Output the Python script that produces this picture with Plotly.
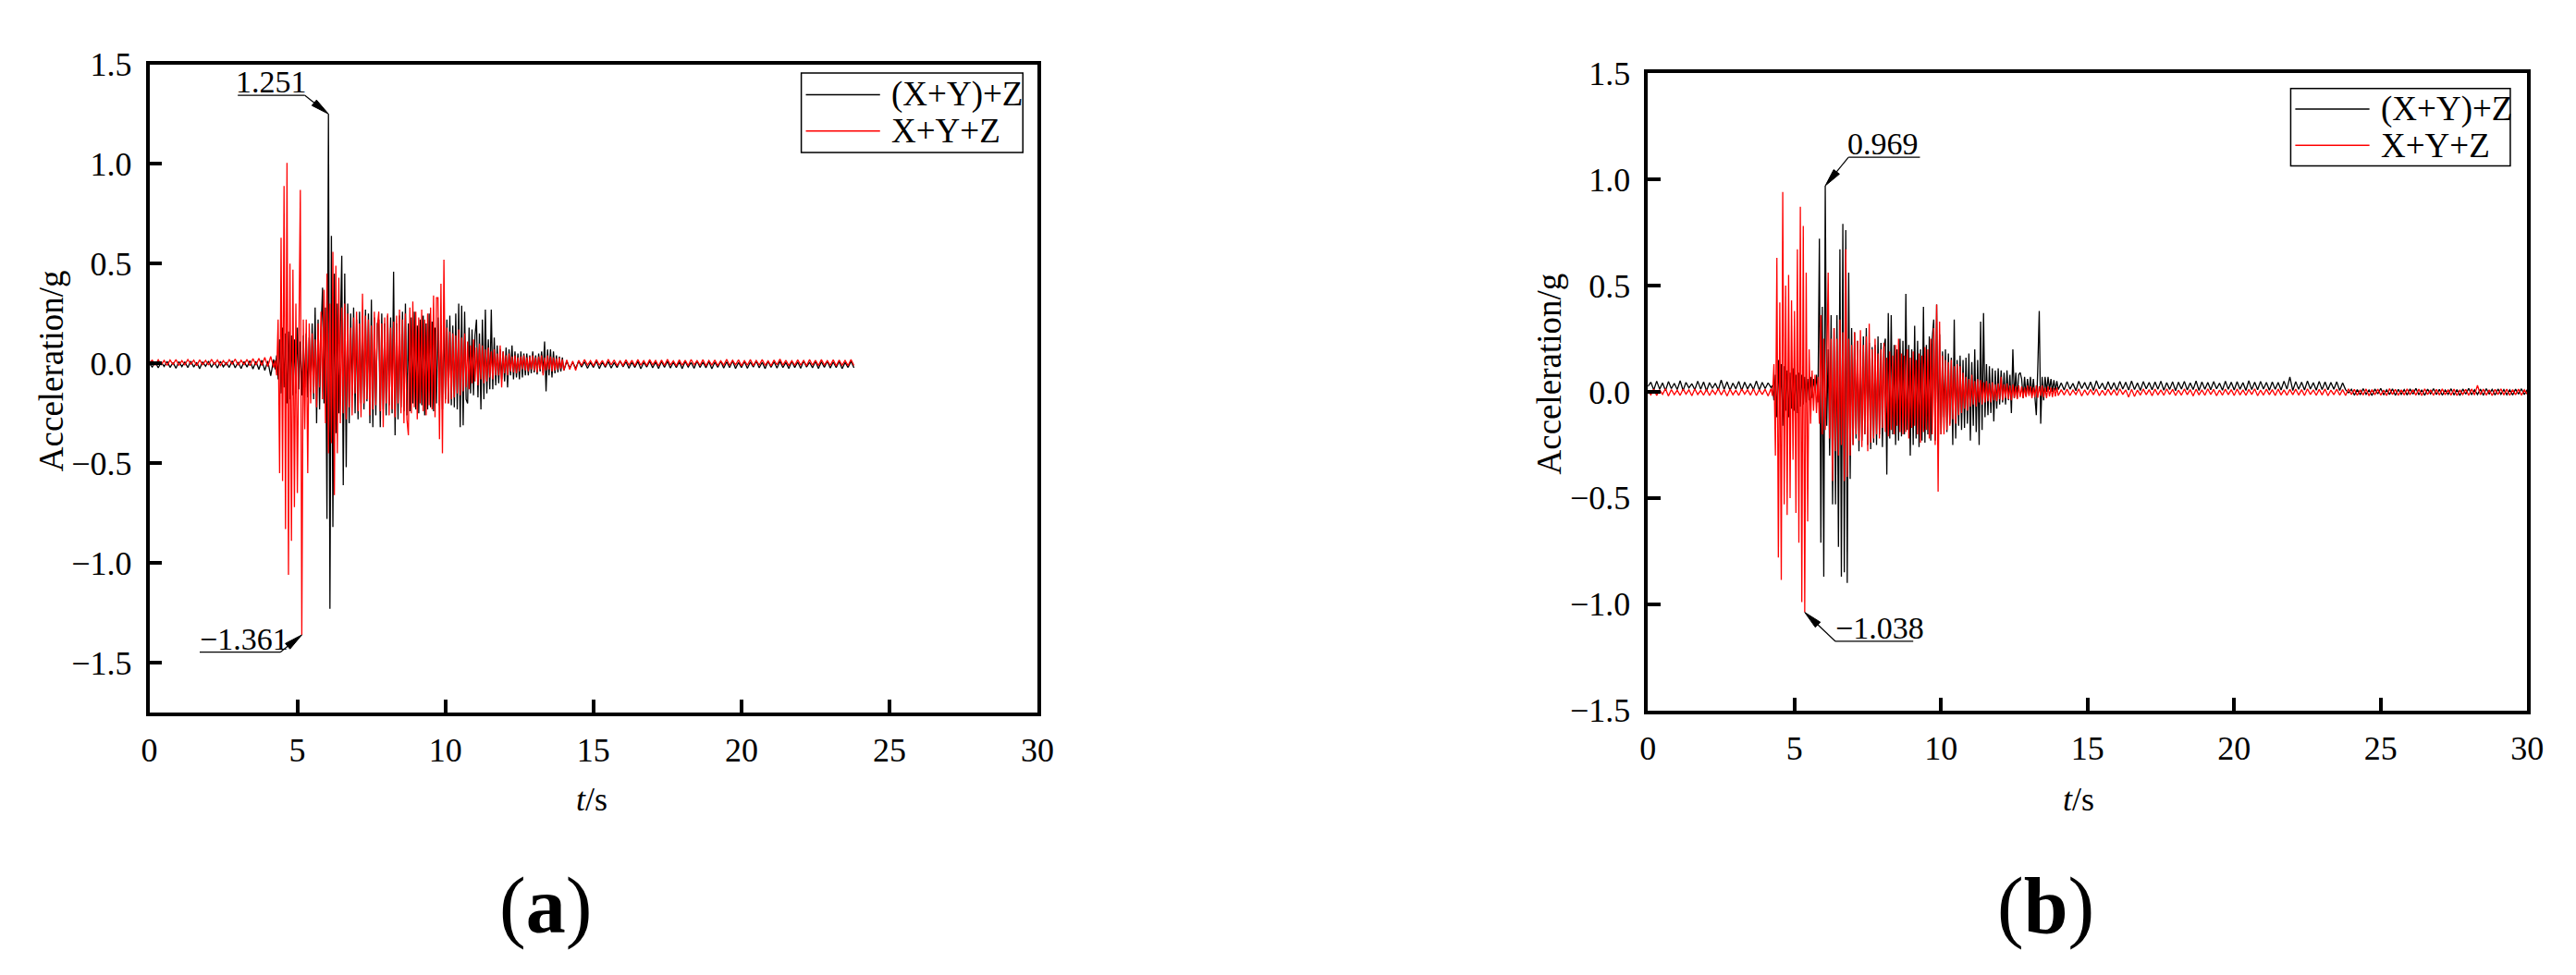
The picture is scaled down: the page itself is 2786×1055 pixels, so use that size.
import numpy as np
import plotly.graph_objects as go

# ---------------------------------------------------------------------------
# DATA  (acceleration values, in milli-g)
# sampling: 0.0-4.2 s every 0.1 s | 4.25-14.0 s every 0.05 s | 14.1 s -> end every 0.1 s
# ---------------------------------------------------------------------------
PRE_STEP = 0.1
STRONG_START, STRONG_STEP = 4.25, 0.05
POST_START, POST_STEP = 14.1, 0.1

series_names = ["(X+Y)+Z", "X+Y+Z"]

# ----- panel (a) -----
a_black_pre = [0, -18, 8, -22, 6, -15, 10, -20, 4, -24, 9, -16, 7, -21, 12, -18, 5, -26, 8, -14,
               11, -19, 6, -23, 10, -17, 4, -20, 13, -22, 7, -25, 9, -18, 14, -28, 10, -30, 16, -35,
               12, -62, 20]
a_black_strong = [-30, 40, -80, 120, -150, 180, -120, 150, -200, 160,
                  -180, 140, -160, 120, -150, 180, -130, 110, -160, 140, -120, 150, -170, 130, -140, 200, -180, 280, -300, 220,
                  -230, 160, 380, -200, 280, -780, 1251, -1230, 640, -820, 450, -350, 300, -250, 200, 540, -610, 450, -520, 300,
                  -300, 250, -160, 280, -250, 220, -280, 260, -200, 240, -230, 270, -190, 250, -300, 320, -320, 230, -260, 200,
                  220, -320, 250, -230, 200, -260, 240, -210, 230, -250, 460, -360, 200, -280, 240, -220, 260, -240, 300, -260,
                  200, -240, 230, -200, 260, -230, 190, -250, 220, -210, 240, -260, 200, -230, 250, -220, 210, -240, 180, -200,
                  230, -210, 190, -230, 200, -180, 220, -200, 240, -210, 190, -220, 250, -230, 300, -320, 290, -310, 260, -180,
                  -200, 180, -150, 170, -160, 140, 220, -170, 150, -230, 220, -180, 270, -150, 120, -130, 270, -130, 130, -110,
                  90, -100, 70, -80, 60, -90, 80, -120, 70, -60, 90, -80, 60, -70, 50, -80, 60, -70, 50, -60,
                  50, -60, 40, -50, 60, -45, 40, -55, 50, -40, 60, -50, 110, -140, 70, -60, 70, -70, 60, -50,
                  40, -45, 35, -40, 30, -35]
a_black_post = [10, -22, 6, -25, 12, -18, 8, -24, 5, -20, 11, -26, 7, -19, 9, -23, 4, -21, 13, -17,
                8, -24, 6, -20, 10, -27, 5, -18, 12, -22, 7, -25, 9, -19, 11, -23, 6, -21, 8, -26,
                10, -18, 5, -24, 12, -20, 7, -22, 9, -27, 6, -19, 11, -23, 8, -21, 13, -25, 5, -20,
                9, -24, 7, -18, 12, -22, 6, -26, 10, -19, 8, -23, 11, -21, 5, -25, 9, -20, 7, -24,
                12, -18, 6, -22, 10, -25, 8, -19, 11, -23, 7, -21, 9, -26, 5, -20, 10, -22]

a_red_pre = [5, 16, -8, 18, -6, 15, -10, 17, -5, 19, -9, 14, -7, 20, -4, 16, -11, 18, -6, 15,
             -8, 21, -5, 17, -10, 14, -7, 19, -4, 22, -9, 16, -6, 20, -12, 24, -8, 26, -10, 30,
             -15, 35, -20]
a_red_strong = [15, -60, 220, -550, 630, -590, 890, -830, 1005, -1060,
                500, -890, 470, -720, 300, -650, 150, 870, -1361, 220, -330, 220, -550, 200, -200, 150, -150, 120, -220, 200,
                -120, 260, -180, 370, -300, 450, -450, 300, -400, 560, -660, 490, -450, 430, -300, 280, -250, 300, -280, 250,
                -220, 180, -260, 230, -150, 260, -240, 200, -270, 350, -200, 240, -180, 220, -260, 190, -230, 260, -210, 180,
                260, -240, 200, -320, 230, -200, 250, -260, 180, -230, 210, -270, 240, -200, 270, -250, 220, -300, 250, -280,
                -360, 280, -250, 310, -220, 260, -280, 230, -200, 270, -240, 220, -260, 250, -210, 280, -230, 340, -270, 330,
                330, -380, 400, -450, 520, -200, 180, -200, 160, -180, 150, -170, 140, -150, 170, -160, 130, -140, 150, -120,
                110, -130, 90, -100, 120, -90, 80, -110, 100, -80, 90, -100, 70, -90, 80, -70, 60, -80, 70, -60,
                50, -60, 90, -120, 60, -50, 40, -60, 50, -40, 35, -45, 40, -50, 30, -40, 35, -30, 40, -35,
                30, -40, 35, -30, 40, -35, 30, -45, 35, -30, 40, -60, 30, -35, 40, -30, 35, -40, 30, -35,
                25, -30, 30, -25, 20, -35]
a_red_post = [18, -30, 12, -35, 16, -10, 20, -8, 14, -12, 19, -9, 15, -13, 21, -7, 17, -11, 13, -10,
              18, -8, 16, -12, 20, -9, 14, -11, 19, -7, 15, -13, 17, -10, 21, -8, 13, -12, 18, -9,
              16, -11, 20, -7, 14, -10, 19, -12, 15, -8, 17, -11, 13, -9, 21, -10, 16, -7, 18, -12,
              14, -9, 20, -11, 15, -8, 19, -10, 13, -12, 17, -7, 22, -9, 16, -11, 14, -10, 18, -8,
              15, -12, 20, -9, 16, -11, 19, -8, 14, -10, 18, -12, 17, -9, 15, -11, 20, -10]

# ----- panel (b) -----
b_black_pre = [25, 45, 8, 50, 12, 42, 5, 48, 15, 40, 10, 52, 6, 44, 18, 38, 9, 50, 12, 46,
               4, 43, 16, 40, 8, 55, 11, 47, 7, 41, 14, 49, 6, 45, 13, 39, 10, 51, 8, 44,
               15, 42, 20]
b_black_strong = [30, -40, 80, -120, 150, -100, 130, -160, 120, -90,
                  100, -120, 90, -80, 110, -90, 80, -100, 90, -70, 80, -60, 70, -50, 60, -40, 70, -30, 60, 10,
                  80, -50, 720, -710, 400, -870, 969, -160, 200, -300, 360, -530, 300, -530, 360, -730, 670, -870, 790, -850,
                  760, -900, 560, -410, 300, -250, 280, -220, 240, -280, 200, -230, 260, -200, 300, -250, 230, -270, 210, -240,
                  220, -250, 260, -200, 230, -260, 210, 250, -390, 370, -220, 360, -200, 220, -250, 200, -230, 250, -210, 240,
                  -200, 460, -180, 220, -300, 200, -250, 310, -220, 240, -260, 200, -230, 400, -240, 220, -200, 260, -230, 250,
                  340, -230, 410, -250, 270, -200, 190, -120, 200, -190, 180, -150, 160, -250, 340, -220, 150, -160, 170, -180,
                  150, -170, 160, -150, 180, -230, 140, -160, 200, -190, 150, -250, 330, -180, 370, -120, 130, -110, 120, -100,
                  110, -140, 100, -80, 110, -60, 100, -50, 90, -60, 100, -40, 80, -100, 200, -30, 90, -30, 80, 90,
                  60, -30, 70, -20, 60, -10, 70, -20, 60, -20, -110, 110, 380, -150, 70, -40, 70, 0, 70, 10,
                  60, 0, 55, 5, 50, 10]
b_black_post = [42, 8, 48, 12, 40, 5, 50, 15, 44, 10, 46, 6, 52, 14, 41, 9, 47, 11, 43, 7,
                49, 13, 45, 8, 51, 10, 42, 6, 48, 14, 44, 9, 46, 12, 50, 7, 43, 11, 47, 5,
                45, 13, 49, 8, 42, 10, 51, 6, 46, 12, 44, 9, 48, 14, 41, 7, 50, 11, 45, 8,
                47, 12, 43, 6, 52, 10, 45, 9, 49, 13, 44, 7, 46, 11, 44, 8, 50, 12, 70, 6,
                48, 11, 45, 8, 51, 13, 43, 7, 49, 10, 46, 9, 44, 12, 47, 6, 42, 10,
                -5, 12, -16, 10, -14, 15, -12, 8, -18, 13, -10, 16, -15, 9, -13, 14, -17, 11, -12, 10,
                -15, 13, -11, 16, -14, 9, -17, 12, -10, 15, -13, 11, -16, 8, -12, 14, -15, 10, -18, 13,
                -11, 16, -14, 9, -13, 12, -17, 15, -10, 11, -16, 13, -12, 10, -14, 9, -15, 12, -11, 14,
                -13, 10]

b_red_pre = [5, -15, 12, -18, 8, -12, 15, -20, 10, -14, 7, -17, 13, -11, 9, -19, 14, -13, 6, -16,
             11, -18, 8, -12, 15, -15, 10, -20, 12, -14, 7, -17, 13, -11, 9, -16, 14, -18, 10, -13,
             12, -20, 15]
b_red_strong = [-20, 130, -300, 630, -780, 420, -885, 940, -530, 500,
                -580, 550, -500, 430, -320, 380, -570, 670, -710, 870, -990, 780, -1038, 560, -610, 200, -150, 100, -90, 80,
                -100, 70, -150, 360, -200, 250, -180, 120, 560, -220, 250, -420, 300, -280, 250, -300, 340, -250, 280, -420,
                670, -400, 250, -300, 220, -250, 280, -200, 240, -230, 290, -260, 220, -200, 260, -280, 320, -240, 200, -220,
                250, -200, 180, -220, 200, -170, 230, -190, 160, -210, 190, -180, 170, -200, 220, -160, 250, -190, 180, -200,
                170, -190, 200, -220, 160, -170, 190, -160, 150, -200, 180, -240, 170, -190, 210, -180, 200, -220, 250, -200,
                300, -250, 410, -470, 330, -200, 170, -200, 150, -180, 140, -160, 150, -130, 120, -150, 130, -110, 120, -100,
                90, -80, 70, -90, 60, -70, 80, -60, 50, -70, 60, -50, 55, -60, 45, -50, 50, -45, 40, -50,
                45, -40, 35, -45, 40, -35, 70, -40, 35, -30, 40, -35, 30, -40, 35, -30, 25, -35, 30, -25,
                25, -30, 20, -25, 30, -20, 25, -30, 20, -25, 30, -28, 25, -20, 30, -25, 20, -30, 25, -22,
                20, -25, 18, -22, 20, -18]
b_red_post = [10, -15, 12, -18, 8, -13, 14, -20, 9, -16, 11, -14, 13, -19, 7, -17, 12, -15, 10, -18,
              14, -13, 9, -25, 11, -22, 8, -16, 13, -14, 10, -19, 12, -15, 9, -17, 14, -13, 11, -18,
              8, -16, 13, -14, 10, -20, 12, -15, 9, -17, 14, -13, 11, -19, 8, -16, 12, -14, 10, -18,
              13, -15, 9, -17, 11, -13, 14, -19, 8, -16, 12, -14, 10, -18, 13, -15, 9, -17, 11, -14,
              12, -16, 10, -18, 14, -13, 9, -17, 11, -15, 13, -19, 8, -14, 12, -16, 10, -18, 14, -13,
              11, -17, 9, -15, 13, -19, 10, -14, 12, -16, 8, -18, 15, -13, 11, -17, 9, -15, 13, -14,
              10, -16, 12, -18, 14, -13, 9, -17, 11, -15, 13, -14, 10, -16, 12, -18, 9, -13, 11, -17,
              13, -15, 30, -14, 12, -16, 9, -18, 11, -13, 14, -15, 12, -17, 10, -14, 12, -16, 9, -12]

x_ticks = [0, 5, 10, 15, 20, 25, 30]
y_ticks_a = [-1.5, -1.0, -0.5, 0.0, 0.5, 1.0, 1.5]
y_ticks_b = [-1.5, -1.0, -0.5, 0.0, 0.5, 1.0, 1.5]


def build(pre, strong, post):
    t = np.concatenate([np.arange(len(pre)) * PRE_STEP,
                        STRONG_START + np.arange(len(strong)) * STRONG_STEP,
                        POST_START + np.arange(len(post)) * POST_STEP])
    v = np.concatenate([pre, strong, post]).astype(float) / 1000.0
    return np.round(t, 3), v


ta_k, va_k = build(a_black_pre, a_black_strong, a_black_post)
ta_r, va_r = build(a_red_pre, a_red_strong, a_red_post)
tb_k, vb_k = build(b_black_pre, b_black_strong, b_black_post)
tb_r, vb_r = build(b_red_pre, b_red_strong, b_red_post)

# ---------------------------------------------------------------------------
# LAYOUT GEOMETRY (pixels of the 2786 x 1055 page)
# ---------------------------------------------------------------------------
W, H = 2786, 1055
FONT = "Liberation Serif"
XR = (0, 30)
PA = dict(x0=154, x1=1124, y0=52.5, y1=781.6, yr=(-1.75, 1.5))
PB = dict(x0=1790.6, x1=2751, y0=62.3, y1=779.4, yr=(-1.5, 1.5))


def px(x, y):
    return x / W, 1 - y / H


def data_px(p, t, v):
    X = p["x0"] + (t - XR[0]) / (XR[1] - XR[0]) * (p["x1"] - p["x0"])
    Y = p["y1"] - (v - p["yr"][0]) / (p["yr"][1] - p["yr"][0]) * (p["y1"] - p["y0"])
    return X, Y


fig = go.Figure()
LW = 1.3
fig.add_trace(go.Scatter(x=ta_k, y=va_k, mode="lines", name=series_names[0],
                         line=dict(color="black", width=LW), xaxis="x", yaxis="y", showlegend=False))
fig.add_trace(go.Scatter(x=ta_r, y=va_r, mode="lines", name=series_names[1],
                         line=dict(color="#ff0000", width=LW), xaxis="x", yaxis="y", showlegend=False))
fig.add_trace(go.Scatter(x=tb_k, y=vb_k, mode="lines", name=series_names[0],
                         line=dict(color="black", width=LW), xaxis="x2", yaxis="y2", showlegend=False))
fig.add_trace(go.Scatter(x=tb_r, y=vb_r, mode="lines", name=series_names[1],
                         line=dict(color="#ff0000", width=LW), xaxis="x2", yaxis="y2", showlegend=False))

axis_common = dict(showgrid=False, zeroline=False, showline=True, linecolor="black", linewidth=3.5,
                   mirror=True, ticks="inside", ticklen=14, tickwidth=3.5, tickcolor="black",
                   tickfont=dict(family=FONT, size=36, color="black"))


def xaxis(p, anchor):
    return dict(axis_common, domain=[p["x0"] / W, p["x1"] / W], range=list(XR), anchor=anchor,
                tickvals=x_ticks, ticktext=[str(v) for v in x_ticks], ticklabelstandoff=6)


def yaxis(p, anchor, ticks):
    return dict(axis_common, domain=[1 - p["y1"] / H, 1 - p["y0"] / H], range=list(p["yr"]), anchor=anchor,
                tickvals=ticks, ticktext=[f"{v:.1f}".replace("-", "\u2212") for v in ticks], ticklabelstandoff=8)


shapes, annots = [], []


def text(x, y, s, size, **kw):
    xp, yp = px(x, y)
    d = dict(x=xp, y=yp, xref="paper", yref="paper", text=s, showarrow=False,
             font=dict(family=FONT, size=size, color="black"), xanchor="center", yanchor="middle")
    d.update(kw)
    annots.append(d)


def line(x0, y0, x1, y1, color="black", width=1.2):
    a, b = px(x0, y0)
    c, d = px(x1, y1)
    shapes.append(dict(type="line", xref="paper", yref="paper", x0=a, y0=b, x1=c, y1=d,
                       line=dict(color=color, width=width)))


def legend(box, rows):
    bx0, by0, bx1, by1 = box
    a, b = px(bx0, by0)
    c, d = px(bx1, by1)
    shapes.append(dict(type="rect", xref="paper", yref="paper", x0=a, y0=b, x1=c, y1=d,
                       line=dict(color="black", width=1.5), fillcolor="white"))
    for (ly, color, label) in rows:
        line(bx0 + 5, ly, bx0 + 86, ly, color=color, width=1.5)
        text(bx0 + 96, ly, label, 37, xanchor="left")


def callout(p, t, v, dx, dy, ul, txt_off):
    tx, ty = data_px(p, t, v)
    ex, ey = tx + dx, ty + dy
    L, hw = 20.0, 4.0
    n = np.hypot(dx, dy)
    ux, uy = dx / n, dy / n
    bx, by = tx + ux * L, ty + uy * L
    p1 = (bx - uy * hw, by + ux * hw)
    p2 = (bx + uy * hw, by - ux * hw)
    pts = [px(tx, ty), px(*p1), px(*p2)]
    path = "M{},{} L{},{} L{},{} Z".format(pts[0][0], pts[0][1], pts[1][0], pts[1][1], pts[2][0], pts[2][1])
    shapes.append(dict(type="path", xref="paper", yref="paper", path=path,
                       fillcolor="black", line=dict(color="black", width=1)))
    line(bx, by, ex, ey)
    line(ex, ey, ex + ul, ey)
    label = f"{v:.3f}".replace("-", "\u2212")
    text(ex + txt_off, ey, label, 34, yanchor="bottom", yshift=-6)


# peak call-outs derived from the data
i = int(np.argmax(va_k)); callout(PA, ta_k[i], va_k[i], -26, -21, -73, -36)
i = int(np.argmin(va_r)); callout(PA, ta_r[i], va_r[i], -23.5, 19.4, -88, -40)
i = int(np.argmax(vb_k)); callout(PB, tb_k[i], vb_k[i], 25.4, -32.2, 78, 38)
i = int(np.argmin(vb_r)); callout(PB, tb_r[i], vb_r[i], 33.5, 32.6, 85, 48)

legend((866, 62.3, 1108, 151.8), [(86.7, "black", series_names[0]), (127.6, "#ff0000", series_names[1])])
legend((2492.6, 79.7, 2732.4, 166.9), [(103, "black", series_names[0]), (143.6, "#ff0000", series_names[1])])

# axis titles and panel labels
text(47.7, 397, "Acceleration/g", 37, textangle=-90)
text(1683, 401, "Acceleration/g", 37, textangle=-90)
text(637, 879, "<i>t</i>/s", 36)
text(2261, 879, "<i>t</i>/s", 36)
text(587, 999, "(<b>a</b>)", 86)
text(2225, 999, "(<b>b</b>)", 86)

fig.update_layout(
    width=W, height=H, margin=dict(l=0, r=0, t=0, b=0),
    paper_bgcolor="white", plot_bgcolor="white",
    xaxis=xaxis(PA, "y"), yaxis=yaxis(PA, "x", y_ticks_a),
    xaxis2=xaxis(PB, "y2"), yaxis2=yaxis(PB, "x2", y_ticks_b),
    shapes=shapes, annotations=annots, showlegend=False,
    font=dict(family=FONT, color="black"),
)

fig.write_html("out.html", config={"displayModeBar": False},
               post_script="document.body.style.margin='0';document.body.style.overflow='hidden';")
